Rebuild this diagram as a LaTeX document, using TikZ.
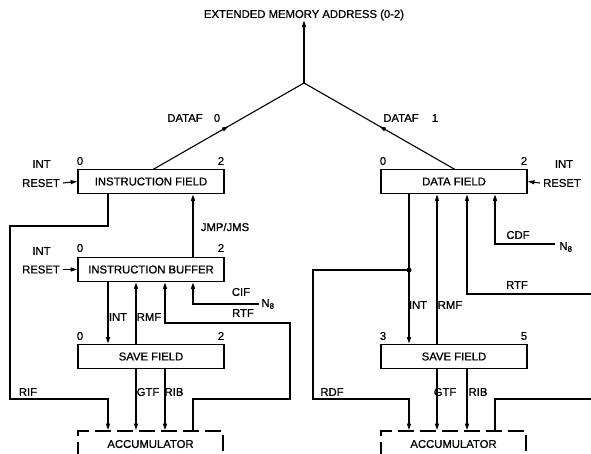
\documentclass[tikz,border=0pt]{standalone}
\usepackage{fontspec}
\setmainfont{Liberation Sans}[FakeBold=0.9]
\usetikzlibrary{arrows.meta,decorations.markings,calc}
\begin{document}
\begin{tikzpicture}[x=1pt,y=-1pt,
  every node/.style={font=\fontsize{11.3}{13}\selectfont, inner sep=0pt},
  reg/.style={draw, line width=1.8pt, minimum width=146pt, minimum height=24pt},
  acc/.style={draw, line width=1.8pt, dash pattern=on 16pt off 6pt, dash phase=3pt, minimum width=145pt, minimum height=26pt},
  wire/.style={line width=1.1pt},
  arr/.style={wire, -{Triangle[length=6.5pt,width=4pt]}},
  dot/.style={circle, fill, minimum size=5pt},
  midarr/.style={wire, postaction={decorate}, decoration={markings, mark=at position 0.5 with {\arrow{Triangle[length=6.5pt,width=4pt]}}}}
]
\useasboundingbox (0,0) rectangle (591,454);
\clip (0,0) rectangle (591,454);

% title and junction
\node (title) at (304,15) {EXTENDED MEMORY ADDRESS (0-2)};
\coordinate (J) at (304,83);

% registers
\node[reg] (IF) at (151,181.5) {INSTRUCTION FIELD};
\node[reg] (IB) at (151,269.5) {INSTRUCTION BUFFER};
\node[reg] (SFL) at (151,356.5) {SAVE FIELD};
\node[acc] (acL) at (150.5,444) {ACCUMULATOR};
\node[reg] (DF) at (454,181.5) {DATA FIELD};
\node[reg] (SFR) at (454,356.5) {SAVE FIELD};
\node[acc] (acR) at (453.5,444) {ACCUMULATOR};

% columns and levels
\coordinate (cA) at (108,0);
\coordinate (cB) at (136,0);
\coordinate (cC) at (165,0);
\coordinate (cD) at (193,0);
\coordinate (dA) at (409,0);
\coordinate (dB) at (437,0);
\coordinate (dC) at (467,0);
\coordinate (dD) at (495,0);
\coordinate (yLow) at (0,399);
\coordinate (yRtf) at (0,323);

% bit numbers
\node at (80,161) {0};  \node at (221,161) {2};
\node at (80,248) {0};  \node at (221,248) {2};
\node at (80,336) {0};  \node at (221,336) {2};
\node at (383,161) {0}; \node at (524,161) {2};
\node at (383,336) {3}; \node at (524,336) {5};

% INT / RESET
\node (intL1) at (41.5,164) {INT};
\node (rstL1) at (41,183) {RESET};
\node (intL2) at (41.5,251) {INT};
\node (rstL2) at (41,269.5) {RESET};
\node (intR1) at (564,164) {INT};
\node (rstR1) at (562,183) {RESET};
\draw[arr] ([xshift=3pt]rstL1.east) -- (IF.west);
\draw[arr] ([xshift=3pt]rstL2.east) -- (IB.west);
\draw[arr] ([xshift=-3pt]rstR1.west) -- (DF.east);

% top tree
\coordinate (IFt) at (153,169.5);
\coordinate (DFt) at (455,169.5);
\draw[arr] (J) -- (title.south);
\draw[midarr] (IFt) -- (J);
\draw[midarr] (DFt) -- (J);
\node at (185,118) {DATAF};
\node at (217,118) {0};
\node at (401,118) {DATAF};
\node at (435,118) {1};

% left side connectors
\draw[arr] (IF.south -| cA) |- (10,226) |- (cA |- yLow) -- (acL.north -| cA);
\node at (28,392) {RIF};
\draw[arr] (IB.north -| cD) -- (IF.south -| cD);
\node at (225,227) {JMP/JMS};
\draw[arr] (IB.south -| cA) -- (SFL.north -| cA);
\node at (118,317) {INT};
\draw[arr] (SFL.north -| cB) -- (IB.south -| cB);
\node at (149,317) {RMF};
\draw[arr] (acL.north -| cD) |- (290,399) |- (cC |- yRtf) -- (IB.south -| cC);
\node at (243,313) {RTF};
\node (n8L) at (268,304) {N\textsubscript{8}};
\draw[arr] ([xshift=-2pt]n8L.west) -| (IB.south -| cD);
\node at (241,292) {CIF};
\draw[arr] (SFL.south -| cB) -- (acL.north -| cB);
\node at (148,392) {GTF};
\draw[arr] (SFL.south -| cC) -- (acL.north -| cC);
\node at (174,392) {RIB};

% right side connectors
\draw[arr] (DF.south -| dA) -- (SFR.north -| dA);
\node[dot] (jR) at (409,270) {};
\draw[arr] (jR.center) -| (313,399) -| (acR.north -| dA);
\node at (332,392) {RDF};
\node at (418,305) {INT};
\draw[arr] (SFR.north -| dB) -- (DF.south -| dB);
\node at (450,305) {RMF};
\coordinate (rtfR) at (591,294);
\draw[arr] (rtfR) -| (DF.south -| dC);
\node at (517,285) {RTF};
\node (n8R) at (566,247) {N\textsubscript{8}};
\coordinate (cdfEnd) at (555,244);
\draw[arr] (cdfEnd) -| (DF.south -| dD);
\node at (518,235) {CDF};
\draw[arr] (SFR.south -| dB) -- (acR.north -| dB);
\node at (445,392) {GTF};
\draw[arr] (SFR.south -| dC) -- (acR.north -| dC);
\node at (478,392) {RIB};
\coordinate (outR) at (591,399);
\draw[wire] (acR.north -| dD) |- (outR);
\end{tikzpicture}
\end{document}
